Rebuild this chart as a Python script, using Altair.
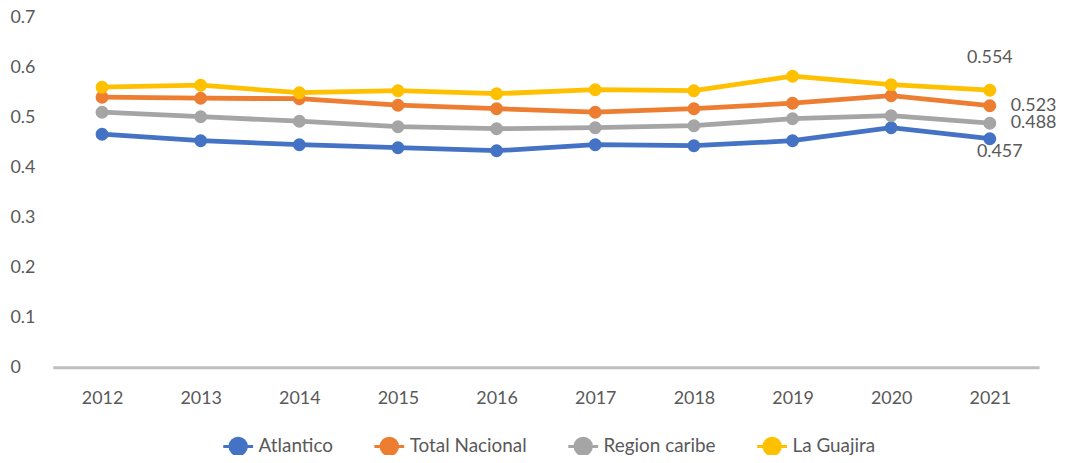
import altair as alt
import pandas as pd

years = ["2012", "2013", "2014", "2015", "2016", "2017", "2018", "2019", "2020", "2021"]
series_names = ["Atlantico", "Total Nacional", "Region caribe", "La Guajira"]
colors = ["#4472C4", "#ED7D31", "#A5A5A5", "#FFC000"]

atlantico = [0.466, 0.453, 0.445, 0.439, 0.433, 0.445, 0.443, 0.453, 0.479, 0.457]
total_nacional = [0.540, 0.538, 0.537, 0.524, 0.517, 0.510, 0.517, 0.528, 0.543, 0.523]
region_caribe = [0.510, 0.501, 0.492, 0.481, 0.477, 0.479, 0.483, 0.497, 0.503, 0.488]
la_guajira = [0.560, 0.564, 0.549, 0.553, 0.547, 0.555, 0.553, 0.582, 0.565, 0.554]

rows = []
for name, vals in zip(series_names, [atlantico, total_nacional, region_caribe, la_guajira]):
    for y, v in zip(years, vals):
        rows.append({"year": y, "serie": name, "value": v, "order": series_names.index(name)})
df = pd.DataFrame(rows)

FONT = "Lato"
TXT = "#595959"

color_enc = alt.Color(
    "serie:N",
    scale=alt.Scale(domain=series_names, range=colors),
    sort=series_names,
    legend=alt.Legend(
        title=None,
        orient="none",
        direction="horizontal",
        legendX=170,
        legendY=415,
        symbolType="M-1,0H1M0.55,0A0.55,0.55,0,1,1,-0.55,0A0.55,0.55,0,1,1,0.55,0Z",
        symbolSize=900,
        symbolStrokeWidth=3,
        labelFont=FONT,
        labelFontSize=19,
        labelColor=TXT,
        labelOffset=4,
        columnPadding=35,
    ),
)

x_enc = alt.X(
    "year:O",
    sort=years,
    title=None,
    axis=alt.Axis(
        labelAngle=0,
        ticks=False,
        domainColor="#BFBFBF",
        domainWidth=3,
        labelFont=FONT,
        labelFontSize=18,
        labelColor=TXT,
        labelPadding=22,
        grid=False,
    ),
)
y_enc = alt.Y(
    "value:Q",
    title=None,
    scale=alt.Scale(domain=[0, 0.7], nice=False),
    axis=alt.Axis(
        values=[0, 0.1, 0.2, 0.3, 0.4, 0.5, 0.6, 0.7],
        labelExpr="datum.value == 0 ? '0' : format(datum.value, '.1f')",
        ticks=False,
        domain=False,
        grid=False,
        labelAlign="left",
        labelPadding=43,
        labelFont=FONT,
        labelFontSize=18,
        labelColor=TXT,
    ),
)

base = alt.Chart(df)

lines = base.mark_line(strokeWidth=4.8).encode(
    x=x_enc, y=y_enc, color=color_enc, order=alt.Order("order:Q")
)
points = base.mark_point(filled=True, size=170, opacity=1).encode(
    x=x_enc, y=y_enc, color=color_enc
)

label_specs = [
    ("La Guajira", "center", 0, -32),
    ("Total Nacional", "left", 21, 0),
    ("Region caribe", "left", 21, 0),
    ("Atlantico", "center", 10, 13),
]
labels = []
for name, align, dx, dy in label_specs:
    labels.append(
        base.transform_filter(
            (alt.datum.year == years[-1]) & (alt.datum.serie == name)
        )
        .mark_text(
            align=align, baseline="middle", dx=dx, dy=dy,
            font=FONT, fontSize=18, color=TXT,
        )
        .encode(x=alt.X("year:O", sort=years), y=alt.Y("value:Q"), text=alt.Text("value:Q", format=".3f"))
    )

chart = (
    alt.layer(lines, points, *labels)
    .properties(
        width=992,
        height=352,
        background="white",
        autosize=alt.AutoSizeParams(type="none"),
        padding={"left": 45, "top": 8, "right": 20, "bottom": 87},
    )
    .configure_view(strokeWidth=0, stroke="transparent")
)

chart.save("out.html", embed_options={"renderer": "svg", "actions": False})
